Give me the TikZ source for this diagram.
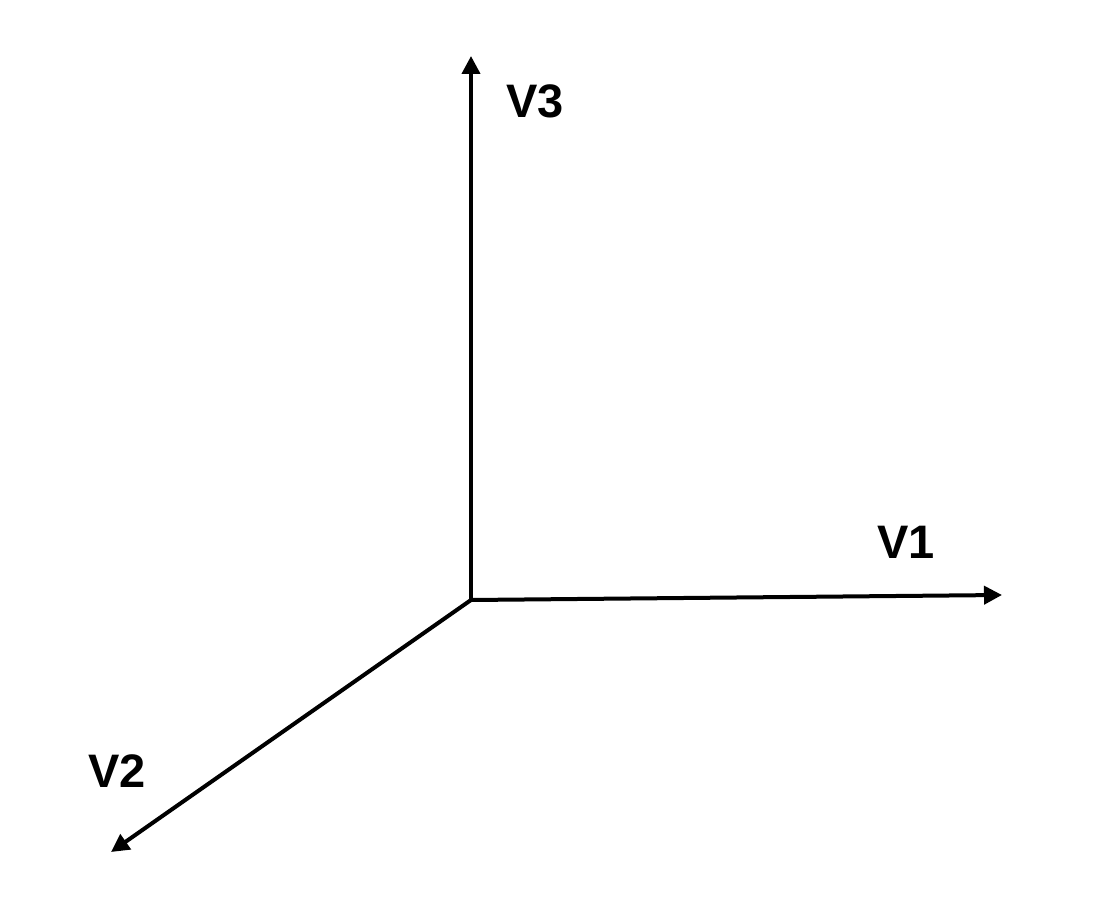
\documentclass[tikz,border=0pt]{standalone}
\usepackage{fontspec}
\setmainfont{Liberation Sans}
\usetikzlibrary{arrows.meta}
\begin{document}
\begin{tikzpicture}[x=0.5pt,y=-0.5pt,
  axis/.style={line width=2pt, -{Triangle[length=9pt,width=9pt]}},
  lbl/.style={font=\fontsize{23.5}{28}\selectfont\bfseries, inner sep=0pt}]
\useasboundingbox (0,0) rectangle (1108,898);
\coordinate (O) at (471,600);
\coordinate (e1) at (1002,595);
\coordinate (e2) at (111,852);
\coordinate (e3) at (471,56);
\draw[axis] (O) -- (e1);
\draw[axis] (O) -- (e2);
\draw[axis] (O) -- (e3);
\node[lbl] (v1) at (906,542) {V1};
\node[lbl] (v2) at (117,771) {V2};
\node[lbl] (v3) at (535,101) {V3};
\end{tikzpicture}
\end{document}
